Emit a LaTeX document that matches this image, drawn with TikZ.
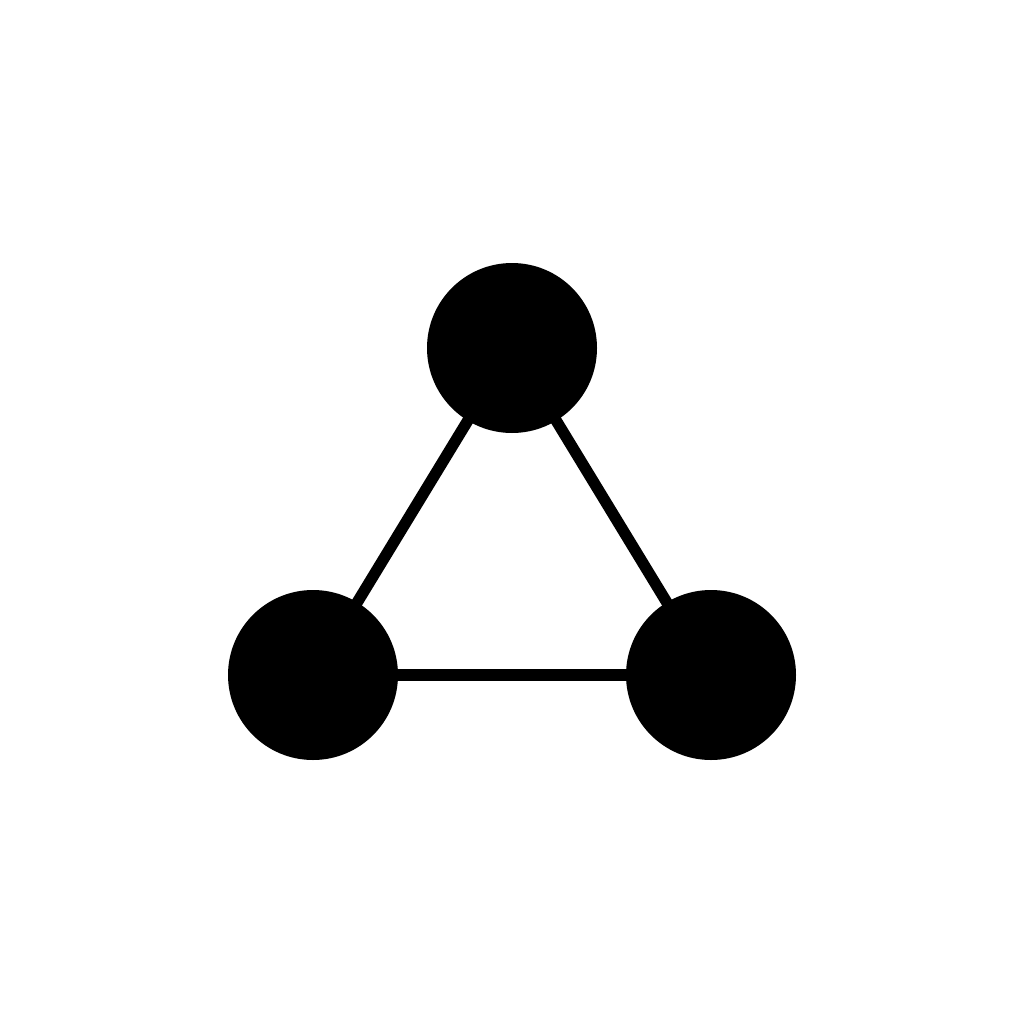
\documentclass[tikz,border=0pt]{standalone}
\tikzset{every picture/.style={line width=0.75pt}}
\tikzset{vertex/.style={circle,fill={rgb, 255:red, 0; green, 0; blue, 0 },inner sep=0pt,minimum size=127.5pt}}
\tikzset{edge/.style={draw={rgb, 255:red, 0; green, 0; blue, 0 },line width=8.5pt,shorten <=-6pt,shorten >=-6pt}}

\begin{document}
\begin{tikzpicture}[x=0.75pt,y=0.75pt,yscale=-1,xscale=1]
\useasboundingbox (0,0) rectangle (1024,1024);

%Circles
\node [vertex] (top) at (512,348) {};
\node [vertex] (left) at (313,675) {};
\node [vertex] (right) at (711,675) {};

%Straight Lines
\draw [edge] (top) -- (left);
\draw [edge] (top) -- (right);
\draw [edge] (left) -- (right);

\end{tikzpicture}
\end{document}
